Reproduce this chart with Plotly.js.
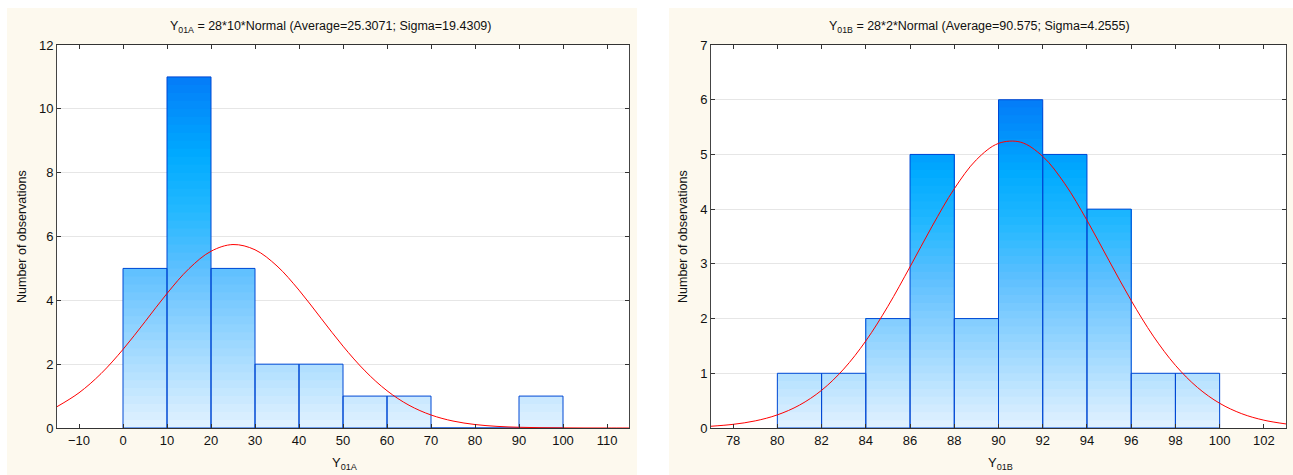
<!DOCTYPE html>
<html><head><meta charset="utf-8">
<script src="https://cdn.plot.ly/plotly-3.0.1.min.js"></script>
<style>html,body{margin:0;padding:0;background:#fff}#chart{width:1293px;height:475px}</style>
</head><body><div id="chart"></div>
<script>
// ---- Data: chart A (Y01A) ----
const binStartA = [0, 10, 20, 30, 40, 50, 60, 70, 80, 90];
const countsA = [5, 11, 5, 2, 2, 1, 1, 0, 0, 1];
const binWidthA = 10;
const curveXA = [-15, -10, -5, 0, 5, 10, 15, 20, 25, 30, 35, 40, 45, 50, 55, 60, 65, 70, 75, 80, 85, 90, 95, 100, 105, 110, 115];
const curveYA = [0.668, 1.103, 1.703, 2.462, 3.330, 4.215, 4.994, 5.538, 5.748, 5.584, 5.076, 4.319, 3.440, 2.564, 1.789, 1.168, 0.713, 0.408, 0.218, 0.109, 0.051, 0.023, 0.009, 0.004, 0.001, 0.0004, 0.0001];
const xTicksA = [-10, 0, 10, 20, 30, 40, 50, 60, 70, 80, 90, 100, 110];
const yTicksA = [0, 2, 4, 6, 8, 10, 12];
const titleA = 'Y<sub>01A</sub> = 28*10*Normal (Average=25.3071; Sigma=19.4309)';
const xLabelA = 'Y<sub>01A</sub>';

// ---- Data: chart B (Y01B) ----
const binStartB = [80, 82, 84, 86, 88, 90, 92, 94, 96, 98];
const countsB = [1, 1, 2, 5, 2, 6, 5, 4, 1, 1];
const binWidthB = 2;
const curveXB = [77, 78, 79, 80, 81, 82, 83, 84, 85, 86, 87, 88, 89, 90, 91, 92, 93, 94, 95, 96, 97, 98, 99, 100, 101, 102, 103];
const curveYB = [0.032, 0.067, 0.130, 0.240, 0.418, 0.689, 1.077, 1.591, 2.225, 2.946, 3.689, 4.372, 4.902, 5.202, 5.224, 4.964, 4.463, 3.797, 3.057, 2.330, 1.679, 1.146, 0.740, 0.452, 0.261, 0.143, 0.074];
const xTicksB = [78, 80, 82, 84, 86, 88, 90, 92, 94, 96, 98, 100, 102];
const yTicksB = [0, 1, 2, 3, 4, 5, 6, 7];
const titleB = 'Y<sub>01B</sub> = 28*2*Normal (Average=90.575; Sigma=4.2555)';
const xLabelB = 'Y<sub>01B</sub>';
const yLabel = 'Number of observations';

// ---- styling ----
const FONT = 'Liberation Sans, Arial, Helvetica, sans-serif';
const W = 1293, H = 475;
const gradStops = [
  [0.00, [226, 242, 255]],
  [0.20, [168, 220, 255]],
  [0.45, [95, 192, 255]],
  [0.62, [35, 184, 255]],
  [0.78, [0, 170, 255]],
  [1.00, [4, 124, 248]]
];
function colorAt(t) {
  for (let i = 1; i < gradStops.length; i++) {
    if (t <= gradStops[i][0]) {
      const a = gradStops[i - 1], b = gradStops[i];
      const f = (t - a[0]) / (b[0] - a[0]);
      const c = a[1].map((v, j) => Math.round(v + (b[1][j] - v) * f));
      return 'rgb(' + c.join(',') + ')';
    }
  }
  return 'rgb(' + gradStops[gradStops.length - 1][1].join(',') + ')';
}

function histTraces(starts, counts, width, xa, ya, levels) {
  const maxC = Math.max(...counts);
  const centers = starts.map(s => s + width / 2);
  const out = [];
  for (let k = levels - 1; k >= 0; k--) {
    const top = maxC * (k + 1) / levels;
    out.push({
      type: 'bar', x: centers, y: counts.map(c => Math.min(c, top)), width: width,
      xaxis: xa, yaxis: ya, marker: { color: colorAt((k + 0.5) / levels), line: { width: 0 } },
      hoverinfo: 'skip', showlegend: false
    });
  }
  out.push({
    type: 'bar', x: centers, y: counts, width: width, xaxis: xa, yaxis: ya,
    marker: { color: 'rgba(0,0,0,0)', line: { color: 'rgb(0,72,212)', width: 1 } },
    showlegend: false
  });
  return out;
}

const traces = [].concat(
  histTraces(binStartA, countsA, binWidthA, 'x', 'y', 44),
  [{ type: 'scatter', mode: 'lines', x: curveXA, y: curveYA, xaxis: 'x', yaxis: 'y',
     line: { color: 'rgb(255,0,0)', width: 1, shape: 'spline' }, showlegend: false }],
  histTraces(binStartB, countsB, binWidthB, 'x2', 'y2', 42),
  [{ type: 'scatter', mode: 'lines', x: curveXB, y: curveYB, xaxis: 'x2', yaxis: 'y2',
     line: { color: 'rgb(255,0,0)', width: 1, shape: 'spline' }, showlegend: false }]
);

const px = v => v / W, py = v => (H - v) / H;
const domA = [px(57), px(629)], domB = [px(711), px(1286)], domY = [py(428), py(45)];

function xAxis(dom, range, ticks, anchor) {
  return {
    domain: dom, range: range, tickvals: ticks, anchor: anchor,
    ticks: 'inside', ticklen: 4, tickcolor: '#333', mirror: 'ticks',
    showline: true, linecolor: '#333', linewidth: 1, showgrid: false, zeroline: false,
    tickfont: { family: FONT, size: 13, color: '#111' }, fixedrange: true
  };
}
function yAxis(range, ticks, anchor) {
  return {
    domain: domY, range: range, tickvals: ticks, anchor: anchor,
    ticks: 'inside', ticklen: 4, tickcolor: '#333', mirror: 'ticks',
    showline: true, linecolor: '#444', linewidth: 1, showgrid: true, gridcolor: '#e6e6e6', zeroline: false,
    tickfont: { family: FONT, size: 13, color: '#111' }, fixedrange: true
  };
}

const layout = {
  width: W, height: H, margin: { l: 0, r: 0, t: 0, b: 0 },
  paper_bgcolor: '#FDF9EE', plot_bgcolor: '#FFFFFF',
  barmode: 'overlay', showlegend: false,
  xaxis: xAxis(domA, [-15, 115], xTicksA, 'y'),
  yaxis: yAxis([0, 12], yTicksA, 'x'),
  xaxis2: xAxis(domB, [77, 103], xTicksB, 'y2'),
  yaxis2: yAxis([0, 7], yTicksB, 'x2'),
  shapes: [
    { type: 'rect', xref: 'paper', yref: 'paper', x0: 0, x1: px(7), y0: 0, y1: 1, fillcolor: '#fff', line: { width: 0 }, layer: 'below' },
    { type: 'rect', xref: 'paper', yref: 'paper', x0: 0, x1: 1, y0: py(8), y1: 1, fillcolor: '#fff', line: { width: 0 }, layer: 'below' },
    { type: 'rect', xref: 'paper', yref: 'paper', x0: px(637), x1: px(669), y0: 0, y1: 1, fillcolor: '#fff', line: { width: 0 }, layer: 'below' }
  ],
  annotations: [
    { text: titleA, xref: 'paper', yref: 'paper', x: px(330), y: py(27), showarrow: false, xanchor: 'center', yanchor: 'middle', font: { family: FONT, size: 12.5, color: '#111' } },
    { text: titleB, xref: 'paper', yref: 'paper', x: px(980), y: py(27), showarrow: false, xanchor: 'center', yanchor: 'middle', font: { family: FONT, size: 12.5, color: '#111' } },
    { text: xLabelA, xref: 'paper', yref: 'paper', x: px(345), y: py(463), showarrow: false, xanchor: 'center', yanchor: 'middle', font: { family: FONT, size: 13, color: '#111' } },
    { text: xLabelB, xref: 'paper', yref: 'paper', x: px(1000), y: py(463), showarrow: false, xanchor: 'center', yanchor: 'middle', font: { family: FONT, size: 13, color: '#111' } },
    { text: yLabel, xref: 'paper', yref: 'paper', x: px(22), y: py(237), showarrow: false, textangle: -90, xanchor: 'center', yanchor: 'middle', font: { family: FONT, size: 12.5, color: '#111' } },
    { text: yLabel, xref: 'paper', yref: 'paper', x: px(683), y: py(237), showarrow: false, textangle: -90, xanchor: 'center', yanchor: 'middle', font: { family: FONT, size: 12.5, color: '#111' } }
  ]
};

Plotly.newPlot('chart', traces, layout, { displayModeBar: false, staticPlot: true });
</script>
</body></html>
